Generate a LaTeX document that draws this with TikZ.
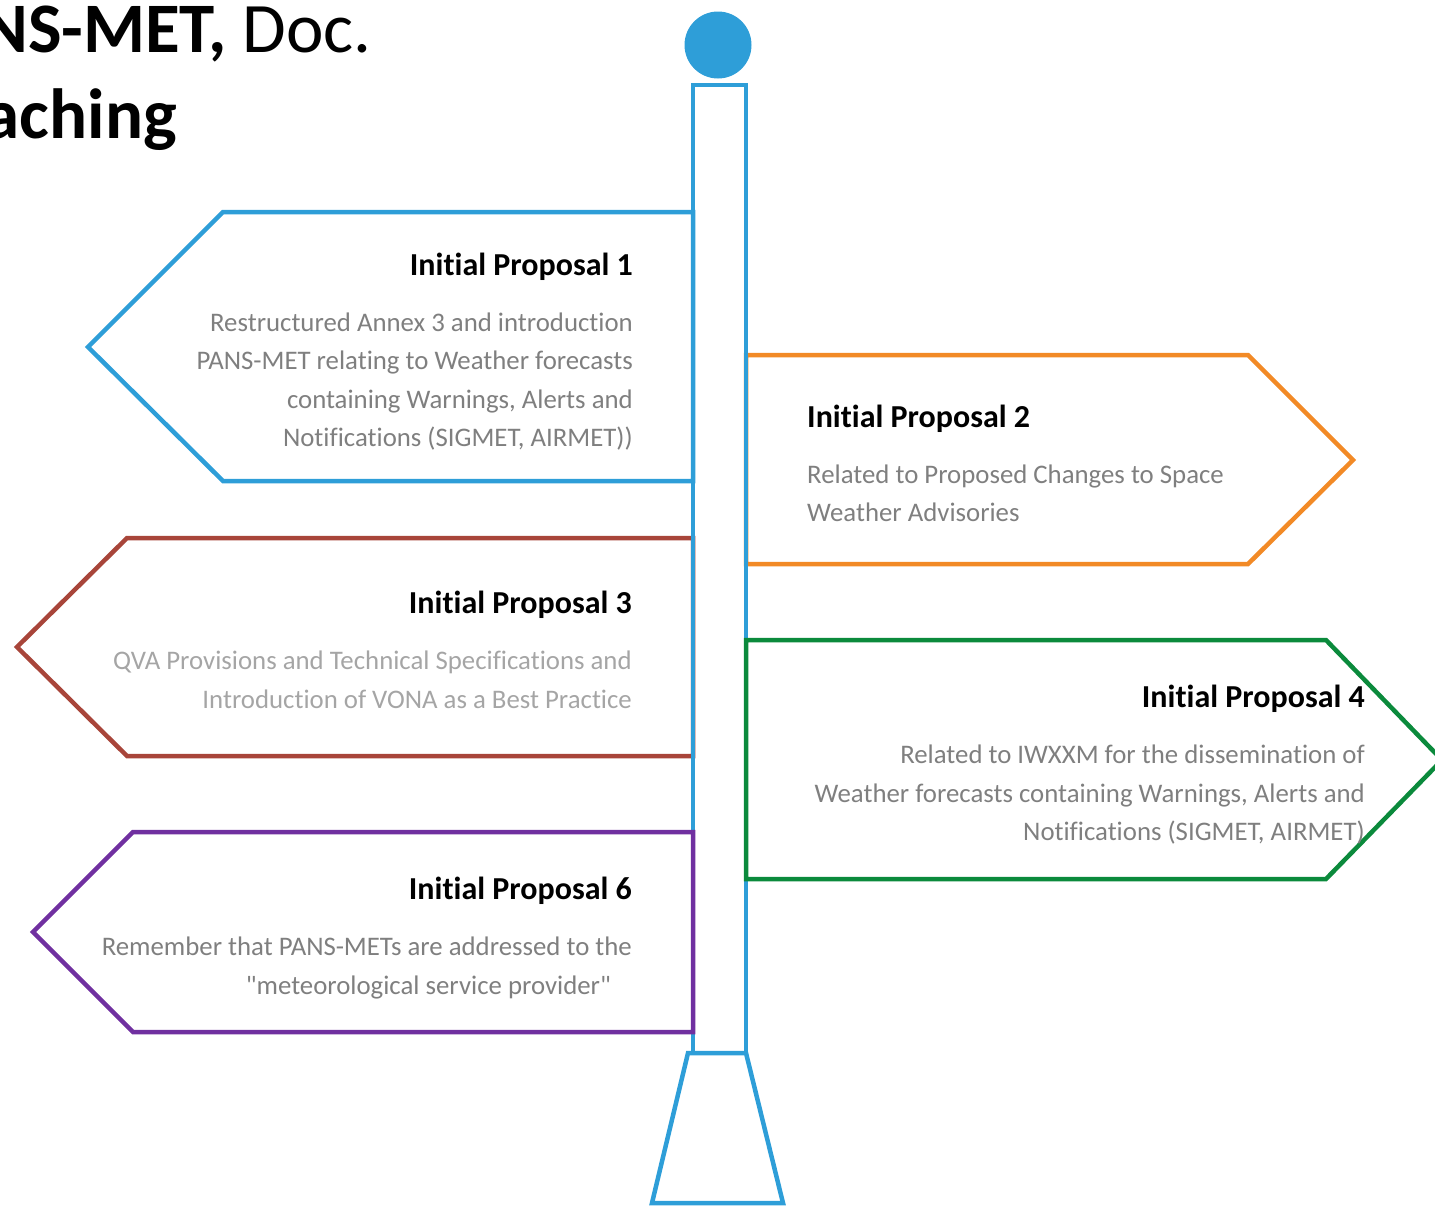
\documentclass[tikz,border=0pt]{standalone}
\usepackage{fontspec}
\setmainfont{Carlito}[Ligatures=NoCommon]
% same family without the TeX input mapping, so that " stays a straight quote
\newfontfamily\plainfont{Carlito}[Ligatures=NoCommon]
\definecolor{postblue}{HTML}{2E9ED8}
\definecolor{signorange}{HTML}{F28A26}
\definecolor{signred}{HTML}{A8453A}
\definecolor{signgreen}{HTML}{0B8A3C}
\definecolor{signpurple}{HTML}{7030A0}
\definecolor{bodygray}{HTML}{7F7F7F}
\definecolor{lightgray}{HTML}{A5A5A5}
\begin{document}
\begin{tikzpicture}[x=1pt,y=-1pt,
  signline/.style={line width=4.5pt, line join=miter},
  ttl/.style={inner sep=0pt, font=\fontsize{32}{38}\selectfont\bfseries, text=black},
  bodytxt/.style={inner sep=0pt, font=\fontsize{26.8}{38}\selectfont, text=bodygray},
  headline/.style={inner sep=0pt, font=\fontsize{71}{84}\selectfont, text=black, anchor=base east}]
\useasboundingbox (0,0) rectangle (1435,1205);
\clip (0,0) rectangle (1435,1205);

% heading, running off the left edge of the page
\node[headline] (head1) at (372,52) {\textbf{NS-MET,} Doc.};
\node[headline] (head2) at (177,138) {\textbf{aching}};

% signs behind the post
\draw[signline, postblue]   (693,212) -- (223,212) -- (88,347) -- (223,481) -- (693,481) -- cycle;
\draw[signline, signorange] (746,355) -- (1248,355) -- (1353,460) -- (1248,564) -- (746,564) -- cycle;
\draw[signline, signred]    (693,538) -- (127,538) -- (17,647) -- (127,756) -- (693,756) -- cycle;

% the post: knob, shaft and foot
\fill[postblue] (718,45) circle[radius=33.5pt];
\draw[signline, postblue] (693,85) rectangle (746,1053);
\draw[signline, postblue] (688,1053) -- (746,1053) -- (783,1203) -- (652,1203) -- cycle;

% signs in front of the post
\draw[signline, signgreen]  (746,640) -- (1326,640) -- (1442,760) -- (1326,879) -- (746,879) -- cycle;
\draw[signline, signpurple] (693,832) -- (133,832) -- (33,932) -- (133,1032) -- (693,1032) -- cycle;

% sign 1
\node[ttl, anchor=base east] (t1) at (633,275) {Initial Proposal 1};
\node[bodytxt, anchor=base east] (b1a) at (633,331) {Restructured Annex 3 and introduction};
\node[bodytxt, anchor=base east] (b1b) at (633,369) {PANS-MET relating to Weather forecasts};
\node[bodytxt, anchor=base east] (b1c) at (633,408) {containing Warnings, Alerts and};
\node[bodytxt, anchor=base east] (b1d) at (633,446) {Notifications (SIGMET, AIRMET))};

% sign 2
\node[ttl, anchor=base west] (t2) at (807,427) {Initial Proposal 2};
\node[bodytxt, anchor=base west] (b2a) at (807,483) {Related to Proposed Changes to Space};
\node[bodytxt, anchor=base west] (b2b) at (807,521) {Weather Advisories};

% sign 3
\node[ttl, anchor=base east] (t3) at (632,613) {Initial Proposal 3};
\node[bodytxt, text=lightgray, anchor=base east] (b3a) at (632,669) {QVA Provisions and Technical Specifications and};
\node[bodytxt, text=lightgray, anchor=base east] (b3b) at (632,708) {Introduction of VONA as a Best Practice};

% sign 4
\node[ttl, anchor=base east] (t4) at (1365,707) {Initial Proposal 4};
\node[bodytxt, anchor=base east] (b4a) at (1365,763) {Related to IWXXM for the dissemination of};
\node[bodytxt, anchor=base east] (b4b) at (1365,802) {Weather forecasts containing Warnings, Alerts and};
\node[bodytxt, anchor=base east] (b4c) at (1365,840) {Notifications (SIGMET, AIRMET)};

% sign 6
\node[ttl, anchor=base east] (t6) at (632,899) {Initial Proposal 6};
\node[bodytxt, anchor=base east] (b6a) at (632,955) {Remember that PANS-METs are addressed to the};
\node[bodytxt, anchor=base east, font=\fontsize{26.8}{38}\plainfont] (b6b) at (611,994) {"meteorological service provider"};
\end{tikzpicture}
\end{document}
